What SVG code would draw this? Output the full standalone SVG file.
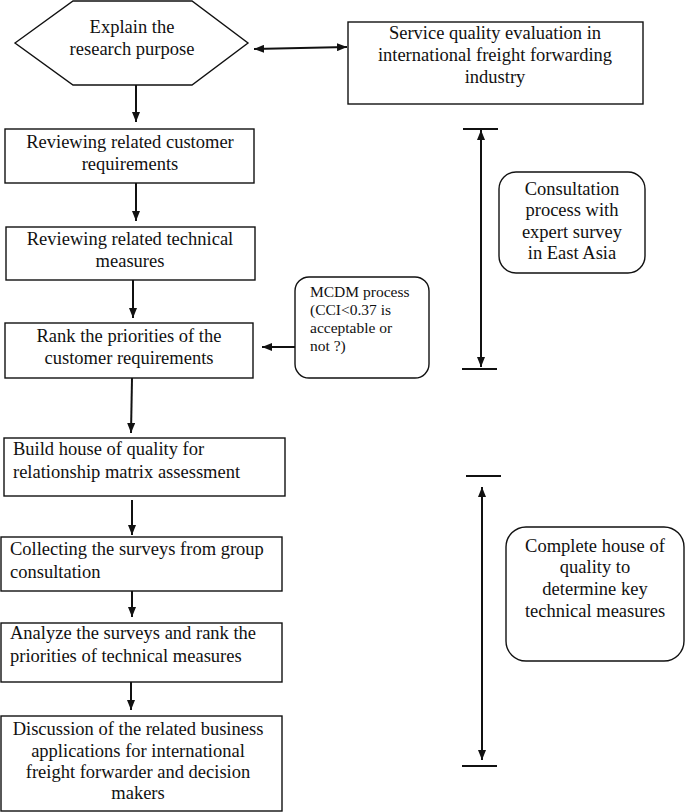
<svg xmlns="http://www.w3.org/2000/svg" width="685" height="812" viewBox="0 0 685 812">
<style>
.box{fill:#fff;stroke:#111;stroke-width:1.4}
.t{font-family:'Liberation Serif','Times New Roman',Times,'DejaVu Serif',serif;font-size:18.5px;fill:#111}
.c{text-anchor:middle}
.s{font-size:15.5px}
.con line{stroke:#111;stroke-width:2}
.tick{stroke:#111;stroke-width:1.4}
</style>
<defs>
<marker id="ah" viewBox="0 0 10 8" markerWidth="10" markerHeight="8" refX="10" refY="4" orient="auto-start-reverse" markerUnits="userSpaceOnUse">
<path d="M0,0 L10,4 L0,8 z" fill="#111"/>
</marker>
</defs>
<rect width="685" height="812" fill="#fff"/>

<g id="n-explain">
<polygon class="box" points="15,43 73,1 192,1 248,43 192,85 73,85"/>
<text class="t c" x="132" y="33" font-family="Liberation Serif, serif">Explain the</text>
<text class="t c" x="132" y="55">research purpose</text>
</g>

<g id="n-service">
<rect class="box" x="348" y="22" width="295" height="82"/>
<text class="t c" x="495" y="39">Service quality evaluation in</text>
<text class="t c" x="495" y="61">international freight forwarding</text>
<text class="t c" x="495" y="83">industry</text>
</g>

<g id="n-customer">
<rect class="box" x="5" y="129" width="249" height="54"/>
<text class="t c" x="130" y="148">Reviewing related customer</text>
<text class="t c" x="130" y="170">requirements</text>
</g>

<g id="n-technical">
<rect class="box" x="6" y="227" width="249" height="53"/>
<text class="t c" x="130" y="245">Reviewing related technical</text>
<text class="t c" x="130" y="267">measures</text>
</g>

<g id="n-rank">
<rect class="box" x="5" y="323" width="248" height="55"/>
<text class="t c" x="129" y="342">Rank the priorities of the</text>
<text class="t c" x="129" y="364">customer requirements</text>
</g>

<g id="n-mcdm">
<rect class="box" x="295" y="277" width="134" height="101" rx="14" ry="14"/>
<text class="t s" x="310" y="297">MCDM process</text>
<text class="t s" x="310" y="315">(CCI&lt;0.37 is</text>
<text class="t s" x="310" y="333">acceptable or</text>
<text class="t s" x="310" y="351">not ?)</text>
</g>

<g id="n-consult">
<rect class="box" x="499" y="172" width="146" height="101" rx="17" ry="17"/>
<text class="t c" x="572" y="195">Consultation</text>
<text class="t c" x="572" y="216">process with</text>
<text class="t c" x="572" y="238">expert survey</text>
<text class="t c" x="572" y="259">in East Asia</text>
</g>

<g id="n-build">
<rect class="box" x="4" y="438" width="281" height="58"/>
<text class="t" x="13" y="455">Build house of quality for</text>
<text class="t" x="13" y="478">relationship matrix assessment</text>
</g>

<g id="n-collect">
<rect class="box" x="1" y="537" width="281" height="54"/>
<text class="t" x="10" y="555">Collecting the surveys from group</text>
<text class="t" x="10" y="578">consultation</text>
</g>

<g id="n-analyze">
<rect class="box" x="1" y="623" width="281" height="59"/>
<text class="t" x="10" y="639">Analyze the surveys and rank the</text>
<text class="t" x="10" y="662">priorities of technical measures</text>
</g>

<g id="n-discuss">
<rect class="box" x="1" y="716" width="281" height="95"/>
<text class="t c" x="138" y="735">Discussion of the related business</text>
<text class="t c" x="138" y="757">applications for international</text>
<text class="t c" x="138" y="778">freight forwarder and decision</text>
<text class="t c" x="138" y="799">makers</text>
</g>

<g id="n-complete">
<rect class="box" x="506" y="527" width="178" height="134" rx="20" ry="20"/>
<text class="t c" x="595" y="552">Complete house of</text>
<text class="t c" x="595" y="573">quality to</text>
<text class="t c" x="595" y="595">determine key</text>
<text class="t c" x="595" y="617">technical measures</text>
</g>

<g id="connectors" class="con">
<line x1="254" y1="49" x2="347" y2="47" marker-start="url(#ah)" marker-end="url(#ah)"/>
<line x1="136" y1="85" x2="136" y2="122" marker-end="url(#ah)"/>
<line x1="136" y1="183" x2="136" y2="221" marker-end="url(#ah)"/>
<line x1="133" y1="280" x2="133" y2="318" marker-end="url(#ah)"/>
<line x1="295" y1="347" x2="262" y2="347" marker-end="url(#ah)"/>
<line x1="132" y1="378" x2="131" y2="433" marker-end="url(#ah)"/>
<line x1="132" y1="500" x2="132" y2="535" marker-end="url(#ah)"/>
<line x1="132" y1="591" x2="132" y2="617" marker-end="url(#ah)"/>
<line x1="131" y1="682" x2="131" y2="710" marker-end="url(#ah)"/>
<line x1="481" y1="130" x2="481" y2="367" marker-start="url(#ah)" marker-end="url(#ah)"/>
<line x1="482" y1="487" x2="482" y2="760" marker-start="url(#ah)" marker-end="url(#ah)"/>
<line class="tick" x1="463" y1="129" x2="498" y2="129"/>
<line class="tick" x1="462" y1="369" x2="497" y2="369"/>
<line class="tick" x1="466" y1="476" x2="501" y2="476"/>
<line class="tick" x1="462" y1="766" x2="497" y2="766"/>
</g>
</svg>
